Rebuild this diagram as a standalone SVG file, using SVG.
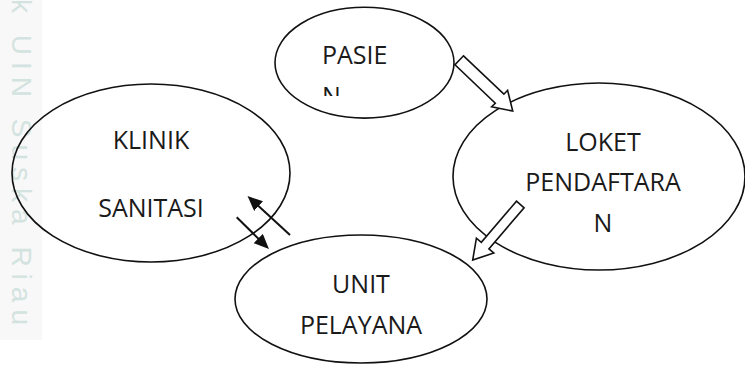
<svg xmlns="http://www.w3.org/2000/svg" width="745" height="365" viewBox="0 0 745 365">
  <style>
    .node ellipse { fill: none; stroke: #111; stroke-width: 1.6; }
    .node text { font-family: "Open Sans", "Liberation Sans", sans-serif; font-size: 25px; fill: #1a1a1a; }
    .c { text-anchor: middle; }
    .block { fill: #fff; stroke: #111; stroke-width: 1.6; stroke-linejoin: miter; }
    .thin { stroke: #111; stroke-width: 2; fill: none; }
    .wm { font-family: "Liberation Sans", sans-serif; font-size: 28px; fill: #d3e3df; letter-spacing: 7px; }
  </style>
  <defs>
    <marker id="head" markerUnits="userSpaceOnUse" markerWidth="16" markerHeight="14" refX="10" refY="6.5" orient="auto">
      <path d="M0,0 L15,6.5 L0,13 Z" fill="#111"/>
    </marker>
    <clipPath id="pasienClip">
      <rect x="300" y="0" width="150" height="96"/>
    </clipPath>
  </defs>
  <rect width="745" height="365" fill="#fff"/>
  <g id="watermark">
    <rect x="0" y="0" width="42" height="340" fill="#f8f8f8"/>
    <text class="wm" transform="translate(12,-1) rotate(90)">k UIN Suska Riau</text>
  </g>

  <g id="pasien" class="node">
    <ellipse cx="364.5" cy="62.7" rx="89.5" ry="55.4"/>
    <g clip-path="url(#pasienClip)">
      <text x="322" y="64">PASIE</text>
      <text x="322" y="104.5">N</text>
    </g>
  </g>

  <g id="loket" class="node">
    <ellipse cx="599" cy="176.5" rx="146" ry="93.5"/>
    <text class="c" x="603" y="150.7">LOKET</text>
    <text class="c" x="603" y="190.7">PENDAFTARA</text>
    <text class="c" x="603" y="231.7">N</text>
  </g>

  <g id="klinik" class="node">
    <ellipse cx="151" cy="173" rx="139" ry="89"/>
    <text class="c" x="151" y="149.3">KLINIK</text>
    <text class="c" x="151" y="217.3">SANITASI</text>
  </g>

  <g id="unit" class="node">
    <ellipse cx="361" cy="299" rx="126" ry="64"/>
    <text class="c" x="361" y="293.3">UNIT</text>
    <text class="c" x="361" y="334">PELAYANA</text>
  </g>

  <g id="connectors">
    <polygon class="block" points="463.5,55.8 503.9,94.2 507.6,90.3 512.7,111 491.6,106.8 495.3,103.2 455,64.8"/>
    <polygon class="block" points="516.5,201.2 524.1,207.8 488.9,248.9 493.8,253 472.7,260 476.4,238.2 481.3,242.3"/>
    <line class="thin" x1="290" y1="235" x2="251.2" y2="199.4" marker-end="url(#head)"/>
    <line class="thin" x1="236.7" y1="217.3" x2="265.4" y2="245.5" marker-end="url(#head)"/>
  </g>
</svg>
